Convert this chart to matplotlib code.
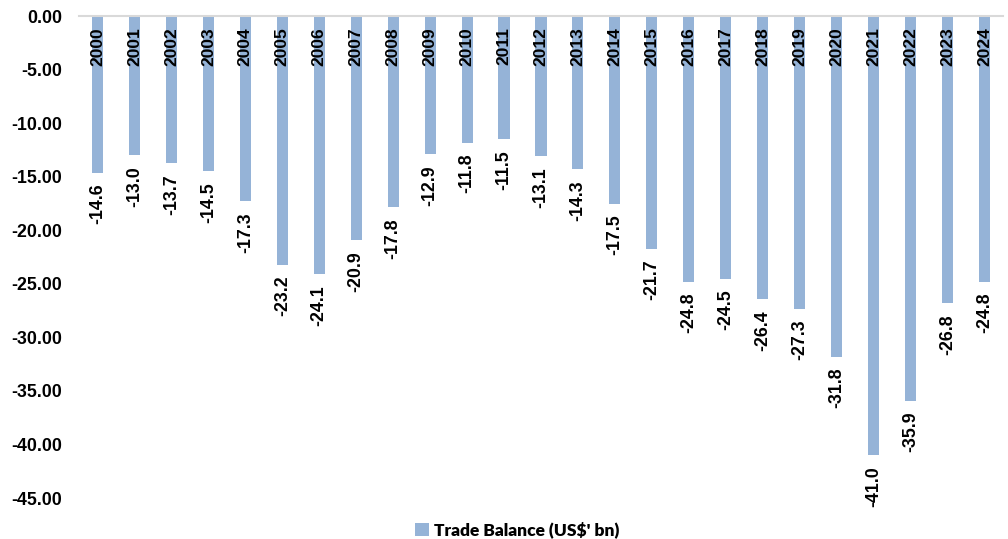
import matplotlib.pyplot as plt
import numpy as np

plt.rcParams["font.family"] = ["Liberation Sans", "DejaVu Sans"]
plt.rcParams["font.weight"] = "bold"

years = [str(y) for y in range(2000, 2025)]
balance = [-14.6, -13.0, -13.7, -14.5, -17.3, -23.2, -24.1, -20.9, -17.8, -12.9,
           -11.8, -11.5, -13.1, -14.3, -17.5, -21.7, -24.8, -24.5, -26.4, -27.3,
           -31.8, -41.0, -35.9, -26.8, -24.8]
yticks = [0, -5, -10, -15, -20, -25, -30, -35, -40, -45]

fig = plt.figure(figsize=(10.08, 5.39), dpi=100)
ax = fig.add_axes([0.0784, 0.076, 0.9166, 0.894])

x = np.arange(len(years))
ax.bar(x, balance, width=0.30, color="#95B3D7",
       label="Trade Balance (US$' bn)", zorder=2)

# year labels just under the zero line, value labels under each bar
for xi, yr, v in zip(x, years, balance):
    ax.annotate(yr, (xi, 0), xytext=(0, -8), textcoords="offset points",
                rotation=90, ha="center", va="top", fontsize=12.5,
                fontweight="bold")
    ax.annotate("{:.1f}".format(v), (xi, v), xytext=(0, -8),
                textcoords="offset points", rotation=90, ha="center",
                va="top", fontsize=12.8, fontweight="bold")

ax.set_xlim(-0.5, len(years) - 0.5)
ax.set_ylim(-45, 0)
ax.set_yticks(yticks)
ax.set_yticklabels(["{:.2f}".format(t) for t in yticks], fontsize=12.8,
                   fontweight="bold")
ax.set_xticks([])
ax.tick_params(axis="y", length=0, pad=12)

for s in ["left", "right", "bottom"]:
    ax.spines[s].set_visible(False)
ax.spines["top"].set_color("#D9D9D9")
ax.spines["top"].set_linewidth(1.5)

ax.legend(loc="upper center", bbox_to_anchor=(0.474, -0.016),
          frameon=False, handlelength=0.8, handleheight=0.8,
          handletextpad=0.3,
          prop={"family": "Lato", "weight": "heavy", "size": 12.5})

fig.savefig("out.png", dpi=100)
